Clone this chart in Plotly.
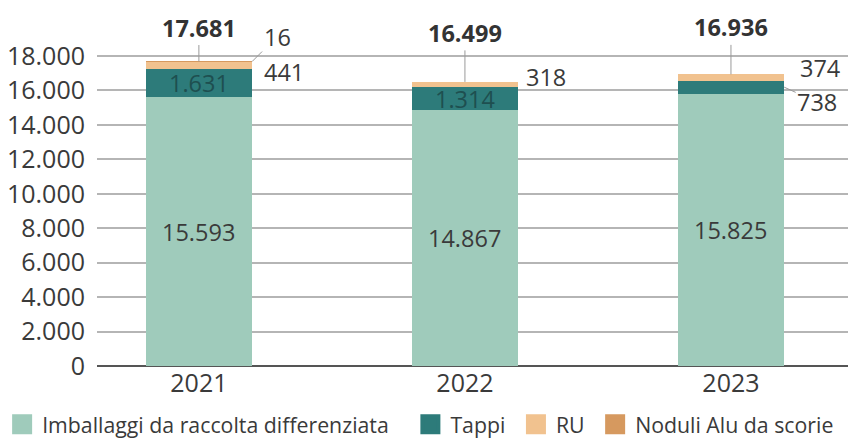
import plotly.graph_objects as go

years = ["2021", "2022", "2023"]
imballaggi = [15593, 14867, 15825]
tappi = [1631, 1314, 738]
ru = [441, 318, 374]
noduli = [16, 0, 0]
totals = [17681, 16499, 16936]
series_names = ["Imballaggi da raccolta differenziata", "Tappi", "RU", "Noduli Alu da scorie"]
y_ticks = list(range(0, 18001, 2000))

colors = ["#9fcbbb", "#2d7b7a", "#f1c28f", "#d6995f"]
legend_pad = ["\u00a0\u00a0\u00a0", "\u00a0", "\u00a0", ""]
FONT = "Open Sans"
TXT = "#3a3a3a"
LBL = 23.5


def fmt(v):
    return f"{v:,}".replace(",", ".")


fig = go.Figure()
for name, vals, col in zip(series_names, [imballaggi, tappi, ru, noduli], colors):
    fig.add_trace(go.Bar(x=years, y=vals, name=name, marker=dict(color=col, line=dict(width=0)),
                         width=0.4, showlegend=False, hoverinfo="skip"))
# legend entries (bigger squares)
for name, col, pad in zip(series_names, colors, legend_pad):
    fig.add_trace(go.Scatter(x=[None], y=[None], mode="markers", name=name + pad,
                             marker=dict(symbol="square", size=16, color=col,
                                         line=dict(width=4, color=col))))

ann = []
for i, v in enumerate(imballaggi):
    ann.append(dict(x=i, y=v / 2, text=fmt(v), showarrow=False,
                    font=dict(size=LBL, color=TXT, family=FONT)))
for i in range(2):
    ann.append(dict(x=i, y=imballaggi[i] + tappi[i] / 2, text=fmt(tappi[i]), showarrow=False,
                    font=dict(size=LBL, color="#1e4f50", family=FONT)))
ann.append(dict(x=2.2, y=imballaggi[2] + tappi[2] / 2, text=fmt(tappi[2]), showarrow=True,
                arrowhead=0, arrowwidth=1, arrowcolor="#9a9a9a", ax=33, ay=15, standoff=0,
                font=dict(size=LBL, color=TXT, family=FONT)))
ru_xshift = [10, 6, 14]
ru_yshift = [-6, 8, 10]
for i in range(3):
    ann.append(dict(x=i + 0.2, y=imballaggi[i] + tappi[i] + ru[i] / 2, text=fmt(ru[i]),
                    showarrow=False, xanchor="left", xshift=ru_xshift[i], yshift=ru_yshift[i],
                    font=dict(size=LBL, color=TXT, family=FONT)))
ann.append(dict(x=0.2, y=totals[0], text=fmt(noduli[0]), showarrow=True, arrowhead=0,
                arrowwidth=1, arrowcolor="#9a9a9a", ax=25, ay=-25, standoff=0,
                font=dict(size=LBL, color=TXT, family=FONT)))
tot_ay = [-34, -49, -47]
for i, t in enumerate(totals):
    ann.append(dict(x=i, y=t, text="<b>" + fmt(t) + "</b>", showarrow=True, arrowhead=0,
                    arrowwidth=1, arrowcolor="#9a9a9a", ax=0, ay=tot_ay[i], standoff=0,
                    font=dict(size=LBL, color="#333333", family=FONT)))

# page body has an 8px margin, so the figure is drawn 8px right/down of the window origin
fig.update_layout(
    width=848, height=431,
    margin=dict(l=89, r=0, t=0, b=73, autoexpand=False),
    paper_bgcolor="white", plot_bgcolor="white",
    barmode="stack",
    separators=",.",
    font=dict(family=FONT, size=22, color=TXT),
    annotations=ann,
    showlegend=True,
    legend=dict(orientation="h", x=-0.125, xanchor="left", y=-0.163, yanchor="middle",
                font=dict(size=21.3, color=TXT, family=FONT), bgcolor="rgba(0,0,0,0)",
                itemsizing="trace", traceorder="normal", tracegroupgap=0),
    xaxis=dict(type="category", range=[-0.383, 2.47], showgrid=False, ticks="",
               tickfont=dict(size=25, color=TXT), showline=False, zeroline=False),
    yaxis=dict(range=[0, 20790], tickvals=y_ticks, tickformat=",d",
               showgrid=True, gridcolor="#b5b5b5", gridwidth=1.5,
               zeroline=True, zerolinecolor="#555555", zerolinewidth=2,
               tickfont=dict(size=25, color=TXT), ticks="", ticklabelstandoff=11),
)

fig.write_html("out.html")
